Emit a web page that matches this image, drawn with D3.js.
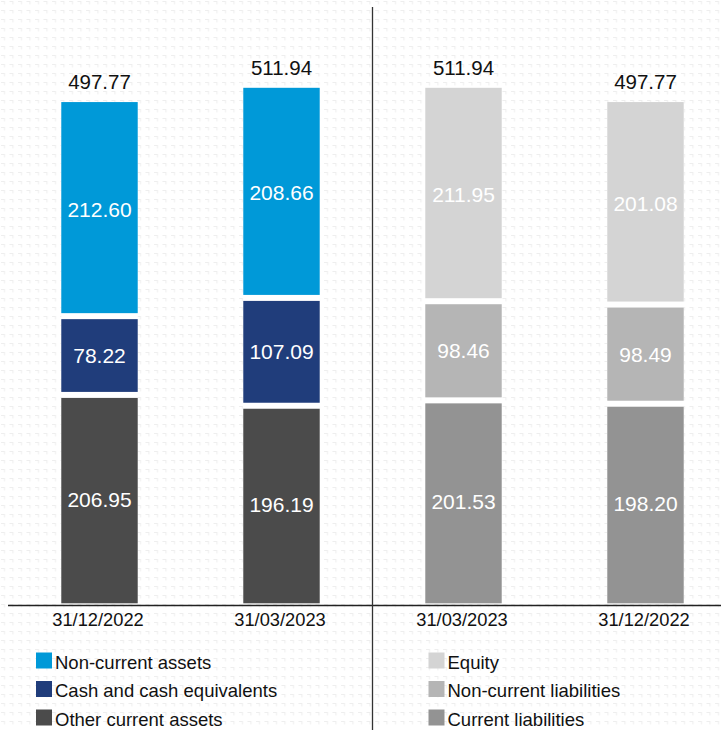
<!DOCTYPE html>
<meta charset="utf-8">
<head>
	<script src="https://d3js.org/d3.v7.min.js"></script>
	<style>
		body { margin: 0; background: #fff; }
		text { font-family: "Liberation Sans", Arial, sans-serif; }
	</style>
</head>
<body>
<script>
"use strict";
// --- data ---
var dates = ["31/12/2022", "31/03/2023", "31/03/2023", "31/12/2022"];
var totals = [497.77, 511.94, 511.94, 497.77];

// assets side (bars 0,1), bottom to top
var otherCurrentAssets = [206.95, 196.19];
var cashEquivalents = [78.22, 107.09];
var nonCurrentAssets = [212.60, 208.66];

// liabilities side (bars 2,3), bottom to top
var currentLiabilities = [201.53, 198.20];
var nonCurrentLiabilities = [98.46, 98.49];
var equity = [211.95, 201.08];

var assetNames = ["Non-current assets", "Cash and cash equivalents", "Other current assets"];
var liabNames = ["Equity", "Non-current liabilities", "Current liabilities"];

var colors = {
	"Non-current assets": "#0099d8",
	"Cash and cash equivalents": "#203d7b",
	"Other current assets": "#4b4b4b",
	"Equity": "#d4d4d4",
	"Non-current liabilities": "#b5b5b5",
	"Current liabilities": "#939393"
};

var width = 721, height = 730;

var svg = d3.select("body").append("svg")
	.attr("width", width)
	.attr("height", height);

// faint background texture
var pat = svg.append("defs").append("pattern")
	.attr("id", "bgpat")
	.attr("patternUnits", "userSpaceOnUse")
	.attr("width", 8.5).attr("height", 9);
pat.append("path")
	.attr("d", "M1,1.5 H5 M4.5,1 V4.5")
	.attr("stroke", "#eeeeee")
	.attr("stroke-width", 1)
	.attr("fill", "none");
svg.append("rect").attr("width", width).attr("height", height).attr("fill", "url(#bgpat)");

var x = d3.scaleBand()
	.domain(d3.range(dates.length))
	.range([8.5, 736.5])
	.paddingInner(0.58)
	.paddingOuter(0.29);

var y = d3.scaleLinear()
	.domain([0, 511.94])
	.range([603.3, 87.8]);

// build stacks per bar
var bars = [];
[0, 1].forEach(function(i) {
	bars.push({ idx: i, segs: [
		{ name: "Other current assets", v: otherCurrentAssets[i] },
		{ name: "Cash and cash equivalents", v: cashEquivalents[i] },
		{ name: "Non-current assets", v: nonCurrentAssets[i] }
	]});
});
[0, 1].forEach(function(i) {
	bars.push({ idx: i + 2, segs: [
		{ name: "Current liabilities", v: currentLiabilities[i] },
		{ name: "Non-current liabilities", v: nonCurrentLiabilities[i] },
		{ name: "Equity", v: equity[i] }
	]});
});

var gap = 3;
bars.forEach(function(b) {
	var g = svg.append("g");
	var cum = 0;
	var bx = x(b.idx), bw = x.bandwidth();
	// white backing so gaps read as white
	g.append("rect")
		.attr("x", bx).attr("width", bw)
		.attr("y", y(totals[b.idx])).attr("height", y(0) - y(totals[b.idx]))
		.attr("fill", "#fff");
	b.segs.forEach(function(s, k) {
		var y0 = y(cum), y1 = y(cum + s.v);
		var top = k === b.segs.length - 1 ? y1 : y1 + gap;
		var bot = k === 0 ? y0 : y0 - gap;
		g.append("rect")
			.attr("x", bx).attr("width", bw)
			.attr("y", top).attr("height", bot - top)
			.attr("fill", colors[s.name]);
		g.append("text")
			.attr("x", bx + bw / 2)
			.attr("y", (y0 + y1) / 2)
			.attr("dy", "0.36em")
			.attr("text-anchor", "middle")
			.attr("fill", "#fff")
			.style("font-size", "21px")
			.text(s.v.toFixed(2));
		cum += s.v;
	});
	g.append("text")
		.attr("x", bx + bw / 2)
		.attr("y", y(totals[b.idx]) - 13)
		.attr("text-anchor", "middle")
		.attr("fill", "#111")
		.style("font-size", "20.5px")
		.text(totals[b.idx].toFixed(2));
});

// baseline and divider
svg.append("line")
	.attr("x1", 8).attr("x2", width)
	.attr("y1", 605.5).attr("y2", 605.5)
	.attr("stroke", "#222").attr("stroke-width", 1.3);
svg.append("line")
	.attr("x1", 372.5).attr("x2", 372.5)
	.attr("y1", 7).attr("y2", height)
	.attr("stroke", "#333").attr("stroke-width", 1.3);

// category labels
svg.selectAll("text.cat")
	.data(dates)
	.enter().append("text")
	.attr("class", "cat")
	.attr("x", function(d, i) { return x(i) + x.bandwidth() / 2 - 1.5; })
	.attr("y", 626)
	.attr("text-anchor", "middle")
	.attr("fill", "#111")
	.style("font-size", "18.3px")
	.text(function(d) { return d; });

// legends
function legend(names, lx) {
	names.forEach(function(n, i) {
		var ty = 652.5 + i * 28.5;
		svg.append("rect")
			.attr("x", lx).attr("y", ty)
			.attr("width", 16).attr("height", 16)
			.attr("fill", colors[n]);
		svg.append("text")
			.attr("x", lx + 19).attr("y", ty + 16)
			.attr("fill", "#111")
			.style("font-size", "18.5px")
			.text(n);
	});
}
legend(assetNames, 36);
legend(liabNames, 428.5);
</script>
</body>
